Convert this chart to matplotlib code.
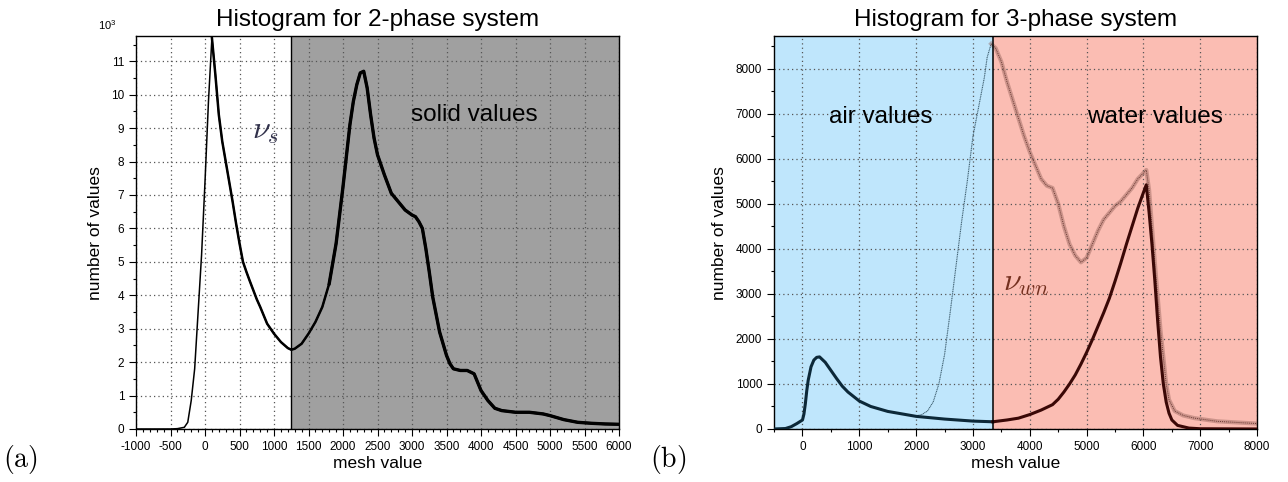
import numpy as np
import matplotlib
matplotlib.use("Agg")
import matplotlib.pyplot as plt
from matplotlib.ticker import MultipleLocator

plt.rcParams['font.family'] = ['Liberation Sans', 'DejaVu Sans']
plt.rcParams['mathtext.fontset'] = 'custom'
plt.rcParams['mathtext.rm'] = 'Liberation Sans'
plt.rcParams['axes.unicode_minus'] = False

# ---- (a) 2-phase histogram, counts in thousands ----
mesh_a = [-1000, -500, -400, -300, -250, -200, -150, -100, -50, 0, 50, 100,
          150, 200, 250, 300, 350, 400, 450, 500, 550, 600, 650, 700, 750,
          800, 900, 1000, 1100, 1200, 1250, 1300, 1400, 1500, 1600, 1700,
          1800, 1900, 2000, 2100, 2150, 2200, 2250, 2300, 2350, 2400, 2450,
          2500, 2550, 2600, 2700, 2800, 2900, 3000, 3050, 3100, 3150, 3200,
          3250, 3300, 3400, 3500, 3550, 3600, 3700, 3800, 3900, 3950, 4000,
          4100, 4200, 4300, 4500, 4700, 4900, 5000, 5200, 5400, 5600, 5800,
          6000]
count_a = [0, 0, 0.01, 0.05, 0.2, 0.85, 1.8, 3.5, 5.2, 7.4, 9.8, 11.7,
           10.6, 9.4, 8.6, 8.0, 7.4, 6.8, 6.15, 5.55, 5.0, 4.7, 4.42, 4.15,
           3.88, 3.65, 3.15, 2.85, 2.6, 2.42, 2.37, 2.4, 2.55, 2.85, 3.2,
           3.65, 4.35, 5.55, 7.25, 9.1, 9.8, 10.3, 10.65, 10.7, 10.2, 9.4,
           8.7, 8.2, 7.9, 7.6, 7.05, 6.8, 6.55, 6.4, 6.35, 6.2, 6.0, 5.4,
           4.7, 3.95, 2.9, 2.2, 1.95, 1.8, 1.75, 1.75, 1.65, 1.4, 1.15, 0.85,
           0.62, 0.55, 0.5, 0.5, 0.45, 0.4, 0.28, 0.2, 0.17, 0.15, 0.14]
nu_s = 1250

# ---- (b) 3-phase histogram ----
mesh_air = [-500, -300, -200, -100, 0, 25, 50, 75, 100, 150, 200, 250, 300,
            400, 500, 600, 700, 800, 1000, 1200, 1500, 2000, 2500, 3000, 3350]
count_air = [0, 10, 50, 120, 200, 330, 560, 850, 1080, 1380, 1530, 1590,
             1600, 1480, 1300, 1120, 950, 820, 620, 500, 390, 280, 220, 175,
             160]
mesh_water = [3350, 3600, 3800, 4000, 4200, 4400, 4500, 4600, 4700, 4800,
              4900, 5000, 5100, 5200, 5300, 5400, 5500, 5600, 5700, 5800,
              5900, 6000, 6050, 6100, 6150, 6200, 6250, 6300, 6350, 6400,
              6450, 6500, 6600, 6800, 7000, 8000]
count_water = [160, 200, 240, 320, 420, 540, 660, 820, 1000, 1200,
               1440, 1700, 1980, 2280, 2580, 2900, 3280, 3680, 4100, 4500,
               4900, 5250, 5420, 4800, 4100, 3300, 2400, 1600, 1000, 600,
               350, 200, 80, 20, 5, 0]
mesh_total = [2000, 2100, 2200, 2300, 2400, 2500, 2600, 2700, 2800, 2900,
              3000, 3100, 3200, 3250, 3320, 3400, 3500, 3600, 3700, 3800,
              3900, 4000, 4100, 4200, 4300, 4400, 4500, 4600, 4700, 4800,
              4900, 5000, 5100, 5200, 5300, 5400, 5500, 5600, 5700, 5800,
              5900, 6050, 6100, 6150, 6200, 6300, 6400, 6450, 6550, 6700,
              6900, 7300, 8000]
count_total = [290, 320, 400, 600, 1000, 1650, 2600, 3600, 4600, 5500,
               6500, 7150, 7800, 8250, 8550, 8450, 8150, 7700, 7300, 6900,
               6500, 6150, 5850, 5550, 5400, 5350, 5000, 4500, 4100, 3850,
               3700, 3800, 4100, 4400, 4650, 4800, 4950, 5050, 5200, 5350,
               5550, 5750, 5300, 4500, 3700, 2200, 1000, 650, 400, 300,
               240, 170, 120]
nu_wn = 3350

fig = plt.figure(figsize=(12.88, 4.82), dpi=100)
axa = fig.add_axes([0.1056, 0.110, 0.375, 0.815])
axb = fig.add_axes([0.601, 0.110, 0.375, 0.815])

grid_kw = dict(color='#555555', linestyle=(0, (1, 2.5)), linewidth=0.9)


def style(ax):
    ax.set_axisbelow(True)
    ax.grid(True, which='major', **grid_kw)
    ax.tick_params(which='major', direction='out', length=5, width=0.8,
                   labelsize=8.5, color='black')
    ax.tick_params(which='minor', direction='out', length=2.5, width=0.8)
    ax.tick_params(top=False, right=False)
    for s in ax.spines.values():
        s.set_linewidth(1.0)
    ax.set_xlabel('mesh value', fontsize=12.5, labelpad=2)
    ax.set_ylabel('number of values', fontsize=12.5, labelpad=6)


# ---- panel (a) ----
xa = np.array(mesh_a)
ya = np.array(count_a)
axa.axvspan(nu_s, 6000, color='#a0a0a0', zorder=0, lw=0)
axa.plot(xa, ya, color='black', lw=1.1, zorder=3)
m = xa >= 100
axa.plot(xa[m], ya[m], color='black', lw=1.8, zorder=3)
m = xa >= 1800
axa.plot(xa[m], ya[m], color='black', lw=2.4, zorder=3)
axa.axvline(nu_s, color='black', lw=1.0, zorder=4)
axa.set_xlim(-1000, 6000)
axa.set_ylim(0, 11.75)
axa.xaxis.set_major_locator(MultipleLocator(500))
axa.xaxis.set_minor_locator(MultipleLocator(100))
axa.yaxis.set_major_locator(MultipleLocator(1))
axa.yaxis.set_minor_locator(MultipleLocator(0.5))
style(axa)
axa.set_title('Histogram for 2-phase system', fontsize=17.5, pad=7)
axa.text(880, 8.9, r'$\nu_s$', fontsize=23, color='#30304a',
         math_fontfamily='cm', ha='center', va='center')
axa.text(3896, 9.39, 'solid values', fontsize=17.5, ha='center', va='center')
axa.text(-0.04, 1.01, r'$\mathregular{10^3}$', transform=axa.transAxes,
         fontsize=8, ha='right', va='bottom')

# ---- panel (b) ----
axb.axvspan(-500, nu_wn, color='#bfe6fc', zorder=0, lw=0)
axb.axvspan(nu_wn, 8000, color='#fbbdb3', zorder=0, lw=0)
xt = np.array(mesh_total)
yt = np.array(count_total)
m = xt <= nu_wn
axb.plot(xt[m], yt[m], color='#3f5f70', lw=0.8, ls=(0, (1, 0.6)), zorder=2)
m = xt >= 3320
axb.plot(xt[m], yt[m], color='#8a5850', lw=3.0, alpha=0.4, zorder=2)
axb.plot(xt[m], yt[m], color='#6a3a34', lw=0.7, ls=(0, (1, 1)), zorder=2)
axb.plot(mesh_air, count_air, color='#0c2838', lw=2.2, zorder=3)
axb.plot(mesh_water, count_water, color='#3a0806', lw=2.2, zorder=3)
axb.axvline(nu_wn, color='black', lw=1.1, zorder=4)
axb.set_xlim(-500, 8000)
axb.set_ylim(0, 8720)
axb.xaxis.set_major_locator(MultipleLocator(1000))
axb.xaxis.set_minor_locator(MultipleLocator(500))
axb.yaxis.set_major_locator(MultipleLocator(1000))
axb.yaxis.set_minor_locator(MultipleLocator(500))
style(axb)
axb.set_title('Histogram for 3-phase system', fontsize=17.5, pad=7)
axb.text(1385, 6928, 'air values', fontsize=17.5, ha='center', va='center')
axb.text(6195, 6928, 'water values', fontsize=17.5, ha='center', va='center')
axb.text(3939, 3235, r'$\nu_{wn}$', fontsize=23, color='#74301f',
         math_fontfamily='cm', ha='center', va='center')

fig.text(20 / 1288, 1 - 460 / 482, r'$\mathrm{(a)}$', fontsize=20,
         math_fontfamily='cm', ha='center', va='center')
fig.text(668 / 1288, 1 - 460 / 482, r'$\mathrm{(b)}$', fontsize=20,
         math_fontfamily='cm', ha='center', va='center')

fig.savefig('out.png', dpi=100)
